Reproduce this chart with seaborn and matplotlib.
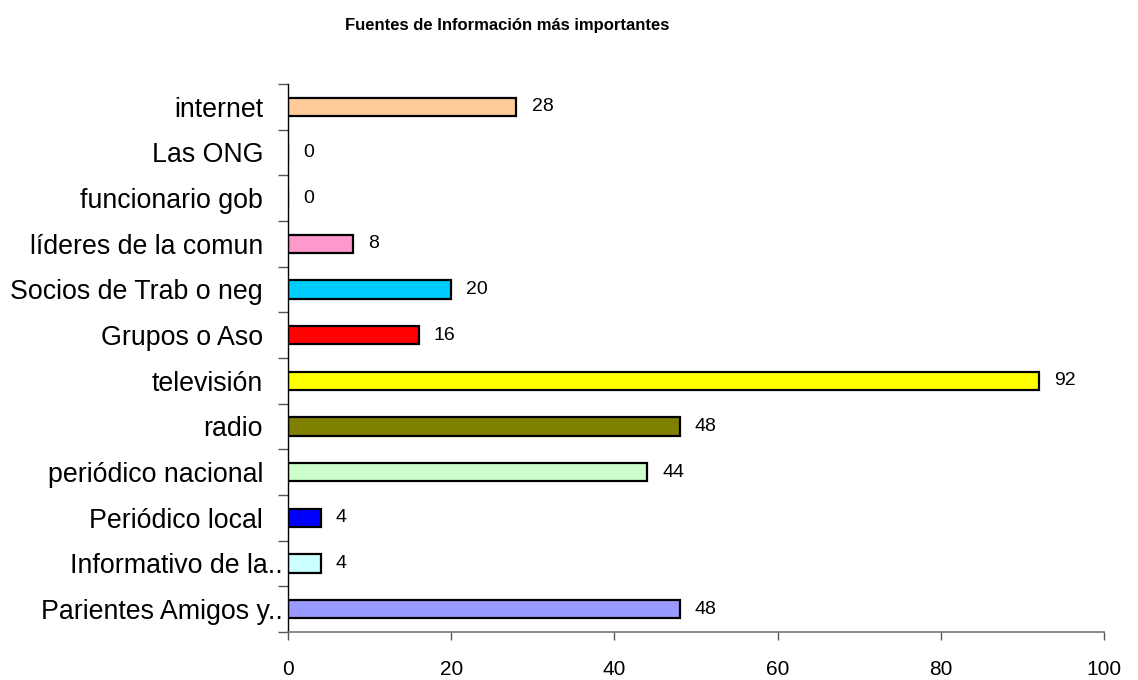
import matplotlib
matplotlib.use("Agg")
import matplotlib.pyplot as plt
import matplotlib.transforms as mtransforms
import numpy as np
import seaborn as sns

# data, top to bottom as drawn
categories = [
    "internet", "Las ONG", "funcionario gob", "líderes de la comun",
    "Socios de Trab o neg", "Grupos o Aso", "televisión", "radio",
    "periódico nacional", "Periódico local", "Informativo de la..",
    "Parientes Amigos y..",
]
values = [28, 0, 0, 8, 20, 16, 92, 48, 44, 4, 4, 48]
colors = [
    "#FFCC99", "#FFFFFF", "#FFFFFF", "#FF99CC", "#00CCFF", "#FF0000",
    "#FFFF00", "#808000", "#CCFFCC", "#0000FF", "#CCFFFF", "#9999FF",
]
x_ticks = [0, 20, 40, 60, 80, 100]

sns.set_style("white")
plt.rcParams["font.family"] = ["Liberation Sans", "DejaVu Sans"]
plt.rcParams["text.color"] = "black"
plt.rcParams["xtick.color"] = "black"
plt.rcParams["ytick.color"] = "black"

fig = plt.figure(figsize=(11.38, 6.8), dpi=100)
ax = fig.add_axes([0.2531, 0.0706, 0.9701 - 0.2531, 0.8765 - 0.0706])

sns.barplot(x=values, y=categories, hue=categories, palette=colors,
            legend=False, orient="h", width=0.4, edgecolor="black",
            linewidth=1.6, saturation=1, ax=ax)

for cont in ax.containers:
    ax.bar_label(cont, fmt="%d", padding=11, fontsize=14, color="black")

ax.set_xlim(0, 100)
ax.set_ylim(11.5, -0.5)
ax.set_xticks(x_ticks)
ax.set_xticklabels([str(t) for t in x_ticks], fontsize=15)
ax.set_yticks(np.arange(-0.5, len(categories)), minor=True)
ax.tick_params(axis="y", which="major", length=0, pad=18, labelsize=19.3,
               labelcolor="black")
ax.tick_params(axis="y", which="minor", length=7, width=1, color="#555555",
               left=True, direction="out")
ax.tick_params(axis="x", length=6, width=1, color="#555555", pad=14,
               bottom=True, direction="out", labelcolor="black")
ax.set_xlabel("")
ax.set_ylabel("")

# truncated labels sit closer to the axis in the original
shift = mtransforms.ScaledTranslation(14 / 72, 0, fig.dpi_scale_trans)
for lab in ax.get_yticklabels():
    if lab.get_text().endswith(".."):
        lab.set_transform(lab.get_transform() + shift)

sns.despine(ax=ax, top=True, right=True)
ax.spines["left"].set_color("black")
ax.spines["left"].set_linewidth(1)
ax.spines["bottom"].set_color("#777777")
ax.spines["bottom"].set_linewidth(1.2)

fig.text(0.446, 0.963, "Fuentes de Información más importantes",
         ha="center", va="center", fontsize=12, fontweight="bold")

fig.savefig("out.png", dpi=100)
